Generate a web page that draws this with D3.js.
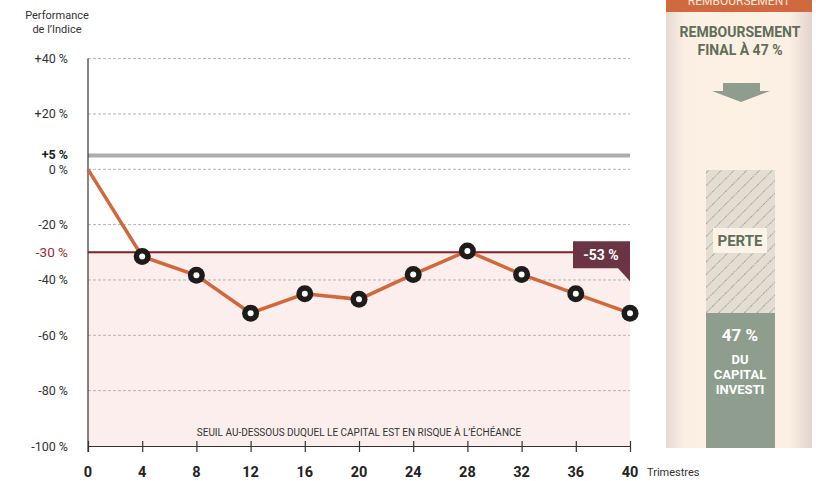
<!DOCTYPE html>
<html>
<head>
<meta charset="utf-8">
<script src="https://cdn.jsdelivr.net/npm/d3@7"></script>
<style>
  body { margin: 0; background: #fff; }
  svg { display: block; font-family: Roboto, "Noto Sans", sans-serif; }
</style>
</head>
<body>
<svg id="chart" width="816" height="481"></svg>
<script>
  // trimestres et performance de l'indice (%)
  const trimestres = [0, 4, 8, 12, 16, 20, 24, 28, 32, 36, 40];
  const performance = [0, -31.5, -38.3, -52, -45, -47, -38, -29.5, -38, -45, -52];
  const gridTicks = [40, 20, 0, -20, -40, -60, -80];
  const yLabels = [40, 20, 0, -20, -40, -60, -80, -100];
  const barriere = 5;
  const seuil = -30;
  const remboursement = 47;

  const svg = d3.select("#chart");
  const x = d3.scaleLinear().domain([0, 40]).range([88, 630]);
  const y = d3.scaleLinear().domain([0, -100]).range([169.3, 446]);

  const fmt = (v) => (v > 0 ? "+" : "") + v + " %";

  // zone de risque
  svg.append("rect")
    .attr("x", x(0)).attr("y", y(seuil))
    .attr("width", x(40) - x(0)).attr("height", y(-100) - y(seuil))
    .attr("fill", "#fbeeec");

  // grille
  svg.selectAll(".grid")
    .data(gridTicks)
    .enter()
    .append("line")
    .attr("x1", x(0)).attr("x2", x(40))
    .attr("y1", (d) => y(d)).attr("y2", (d) => y(d))
    .attr("stroke", "#b3b3b3")
    .attr("stroke-dasharray", "3,2");

  // libellés axe y
  svg.selectAll(".ylab")
    .data(yLabels)
    .enter()
    .append("text")
    .attr("x", 68).attr("y", (d) => y(d) + 4.5)
    .attr("text-anchor", "end")
    .attr("font-size", 12.5)
    .attr("fill", "#333")
    .text(fmt);

  svg.append("text")
    .attr("x", 68).attr("y", y(barriere) + 4)
    .attr("text-anchor", "end")
    .attr("font-size", 12.5).attr("font-weight", "bold")
    .attr("fill", "#222")
    .text(fmt(barriere));

  svg.append("text")
    .attr("x", 68).attr("y", y(seuil) + 5)
    .attr("text-anchor", "end")
    .attr("font-size", 13.5)
    .attr("fill", "#9b2a2e")
    .text(seuil + " %");

  // titre axe y
  svg.append("text")
    .attr("x", 57).attr("y", 19)
    .attr("text-anchor", "middle")
    .attr("font-size", 11).attr("fill", "#333")
    .text("Performance");
  svg.append("text")
    .attr("x", 57).attr("y", 33)
    .attr("text-anchor", "middle")
    .attr("font-size", 11).attr("fill", "#333")
    .text("de l\u2019Indice");

  // barrière +5 %
  svg.append("line")
    .attr("x1", x(0)).attr("x2", x(40))
    .attr("y1", y(barriere)).attr("y2", y(barriere))
    .attr("stroke", "#adadad").attr("stroke-width", 4);

  // seuil -30 %
  svg.append("line")
    .attr("x1", x(0)).attr("x2", x(40))
    .attr("y1", y(seuil)).attr("y2", y(seuil))
    .attr("stroke", "#8a1c22").attr("stroke-width", 2);

  // axe y
  svg.append("line")
    .attr("x1", x(0)).attr("x2", x(0))
    .attr("y1", y(40)).attr("y2", y(-100) + 6)
    .attr("stroke", "#333").attr("stroke-width", 1.2);

  // axe x
  const xAxis = svg.append("g")
    .attr("transform", `translate(0,${y(-100)})`)
    .call(d3.axisBottom(x).tickValues(trimestres).tickSize(6).tickSizeOuter(0).tickFormat(""));
  xAxis.select(".domain").attr("stroke", "#333").attr("stroke-width", 1.2);
  xAxis.selectAll(".tick line")
    .attr("y1", -5).attr("y2", 6)
    .attr("stroke", "#333").attr("stroke-width", 1.2);

  svg.selectAll(".xlab")
    .data(trimestres)
    .enter()
    .append("text")
    .attr("x", (d) => x(d)).attr("y", 477)
    .attr("text-anchor", "middle")
    .attr("font-size", 14.5).attr("font-weight", "bold")
    .attr("fill", "#222")
    .text((d) => d);

  svg.append("text")
    .attr("x", 647).attr("y", 476)
    .attr("font-size", 11).attr("fill", "#333")
    .text("Trimestres");

  svg.append("text")
    .attr("x", 359).attr("y", 436)
    .attr("text-anchor", "middle")
    .attr("font-size", 10).attr("fill", "#333")
    .text("SEUIL AU-DESSOUS DUQUEL LE CAPITAL EST EN RISQUE À L\u2019ÉCHÉANCE");

  // courbe
  const pts = trimestres.map((t, i) => [t, performance[i]]);
  svg.append("path")
    .datum(pts)
    .attr("fill", "none")
    .attr("stroke", "#d0683a")
    .attr("stroke-width", 3.5)
    .attr("d", d3.line().x((d) => x(d[0])).y((d) => y(d[1])));

  const marks = svg.selectAll(".mark")
    .data(pts.slice(1))
    .enter()
    .append("g")
    .attr("transform", (d) => `translate(${x(d[0])},${y(d[1])})`);
  marks.append("circle").attr("r", 8.5).attr("fill", "#1e1b1b");
  marks.append("circle").attr("r", 3).attr("fill", "#fff");

  // étiquette finale
  const lx = x(40), ly = y(seuil);
  svg.append("path")
    .attr("d", `M${lx - 57},${ly - 11} H${lx} V${ly + 29} L${lx - 12},${ly + 16} H${lx - 57} Z`)
    .attr("fill", "#6b3444");
  svg.append("text")
    .attr("x", lx - 29).attr("y", ly + 8)
    .attr("text-anchor", "middle")
    .attr("font-size", 14).attr("font-weight", "bold")
    .attr("fill", "#fff")
    .text("-53 %");

  // panneau remboursement
  const defs = svg.append("defs");
  const grad = defs.append("linearGradient").attr("id", "panelGrad");
  [[0, "#e6d8d2"], [0.12, "#fbefe4"], [0.5, "#fdf1e4"], [0.85, "#fbefe4"], [1, "#e2d3cd"]]
    .forEach(([o, c]) => grad.append("stop").attr("offset", o).attr("stop-color", c));
  const hatch = defs.append("pattern")
    .attr("id", "hatch").attr("patternUnits", "userSpaceOnUse")
    .attr("width", 9).attr("height", 9)
    .attr("patternTransform", "rotate(45)");
  hatch.append("rect").attr("width", 9).attr("height", 9).attr("fill", "#e4ded2");
  hatch.append("line").attr("x1", 0).attr("x2", 0).attr("y1", 0).attr("y2", 9)
    .attr("stroke", "#666").attr("stroke-width", 1).attr("stroke-dasharray", "1.5,1");

  const px0 = 666, px1 = 812, py1 = 448;
  svg.append("rect")
    .attr("x", px0).attr("y", 0).attr("width", px1 - px0).attr("height", py1)
    .attr("fill", "url(#panelGrad)");
  svg.append("rect")
    .attr("x", px0).attr("y", 0).attr("width", px1 - px0).attr("height", 12)
    .attr("fill", "#d0693f");
  svg.append("text")
    .attr("x", 739).attr("y", 5)
    .attr("text-anchor", "middle")
    .attr("font-size", 12).attr("fill", "#fbe9dc")
    .text("REMBOURSEMENT");

  svg.append("text")
    .attr("x", 740).attr("y", 37)
    .attr("text-anchor", "middle")
    .attr("font-size", 14).attr("font-weight", "bold").attr("fill", "#5e6e58")
    .text("REMBOURSEMENT");
  svg.append("text")
    .attr("x", 740).attr("y", 55)
    .attr("text-anchor", "middle")
    .attr("font-size", 14).attr("font-weight", "bold").attr("fill", "#5e6e58")
    .text("FINAL À " + remboursement + " %");

  svg.append("path")
    .attr("d", "M723,83 H760 V91 H770 L741,102 L712,91 H723 Z")
    .attr("fill", "#8f9d8f");

  // barre capital
  const by = d3.scaleLinear().domain([0, 100]).range([448, 170]);
  svg.append("rect")
    .attr("x", 706).attr("y", by(100)).attr("width", 69).attr("height", by(0) - by(100))
    .attr("fill", "url(#hatch)");
  svg.append("rect")
    .attr("x", 706).attr("y", 313).attr("width", 69).attr("height", by(0) - 313)
    .attr("fill", "#8f9d8f");
  svg.append("rect")
    .attr("x", 713).attr("y", 228).attr("width", 54).attr("height", 25)
    .attr("fill", "#fcf3e8");
  svg.append("text")
    .attr("x", 740).attr("y", 246)
    .attr("text-anchor", "middle")
    .attr("font-size", 15).attr("font-weight", "bold").attr("fill", "#5e6e58")
    .text("PERTE");

  svg.append("text")
    .attr("x", 740).attr("y", 341)
    .attr("text-anchor", "middle")
    .attr("font-size", 17).attr("font-weight", "bold").attr("fill", "#fff")
    .text(remboursement + " %");
  ["DU", "CAPITAL", "INVESTI"].forEach((t, i) => {
    svg.append("text")
      .attr("x", 740).attr("y", 364 + i * 15)
      .attr("text-anchor", "middle")
      .attr("font-size", 13).attr("font-weight", "bold").attr("fill", "#fff")
      .text(t);
  });
</script>
</body>
</html>
